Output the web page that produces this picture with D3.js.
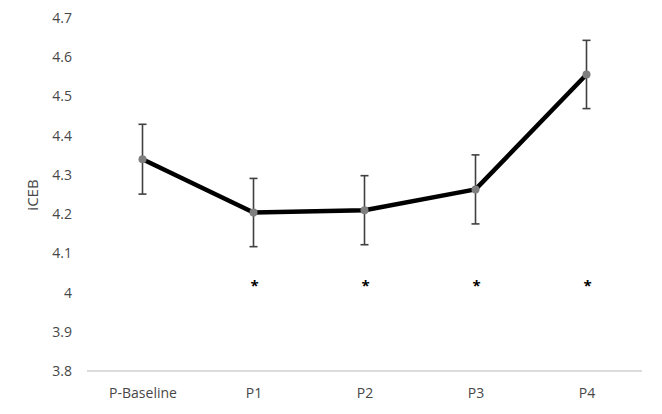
<!DOCTYPE html>
<html>
<head>
<meta charset="utf-8">
<script src="https://cdn.jsdelivr.net/npm/d3@7"></script>
<style>
    body { margin: 0; background: #fff; }
    text { font-family: "Open Sans", sans-serif; }
</style>
</head>
<body>
<div id="chart"></div>
<script>
// Chart values.
const categories = ['P-Baseline', 'P1', 'P2', 'P3', 'P4']
const means = [4.340, 4.204, 4.210, 4.263, 4.556]
const errors = [0.089, 0.087, 0.088, 0.088, 0.087]
const significant = [false, true, true, true, true]
const starValue = 4.02
const yTicks = [3.8, 3.9, 4, 4.1, 4.2, 4.3, 4.4, 4.5, 4.6, 4.7]
const yLabel = 'iCEB'

const width = 662
const height = 414
const textColor = '#474747'

const svg = d3.select('#chart').append('svg').attr('width', width).attr('height', height)

const xScale = d3.scalePoint().domain(categories).range([87, 642]).padding(0.5)
const yScale = d3.scaleLinear().domain([3.8, 4.7]).range([371, 18])

// y axis: labels only, no line
const yAxis = d3.axisLeft(yScale).tickValues(yTicks).tickSize(0).tickPadding(0)
    .tickFormat(d => d3.format('')(+d.toFixed(1)))
const gy = svg.append('g').attr('transform', 'translate(72, 0)').call(yAxis)
gy.select('.domain').remove()
gy.selectAll('text').attr('font-size', 14).attr('fill', textColor)
    .style('font-family', '"Open Sans", sans-serif')

// x axis: light gray baseline, no ticks
const xAxis = d3.axisBottom(xScale).tickSize(0).tickPadding(17)
const gx = svg.append('g').attr('transform', 'translate(0, 371)').call(xAxis)
gx.select('.domain').attr('stroke', '#d0d0d0').attr('stroke-width', 1.5)
    .attr('d', 'M87,0H642')
gx.selectAll('text').attr('font-size', 14).attr('fill', textColor)
    .style('font-family', '"Open Sans", sans-serif')

svg.append('text')
    .attr('transform', 'translate(38, 195) rotate(-90)')
    .attr('text-anchor', 'middle')
    .attr('font-size', 15).attr('fill', textColor)
    .text(yLabel)

const rows = categories.map((c, i) => ({ c: c, m: means[i], e: errors[i], sig: significant[i] }))

// error bars
const capHalf = 4
const eb = svg.append('g').attr('stroke', '#404040').attr('stroke-width', 1.6)
rows.forEach(d => {
    const x = xScale(d.c)
    const y1 = yScale(d.m + d.e)
    const y2 = yScale(d.m - d.e)
    eb.append('line').attr('x1', x).attr('x2', x).attr('y1', y1).attr('y2', y2)
    eb.append('line').attr('x1', x - capHalf).attr('x2', x + capHalf).attr('y1', y1).attr('y2', y1)
    eb.append('line').attr('x1', x - capHalf).attr('x2', x + capHalf).attr('y1', y2).attr('y2', y2)
})

// mean line
const line = d3.line().x(d => xScale(d.c)).y(d => yScale(d.m))
svg.append('path').datum(rows).attr('d', line)
    .attr('fill', 'none').attr('stroke', '#000').attr('stroke-width', 4.5)
    .attr('stroke-linejoin', 'round')

svg.selectAll('circle.pt').data(rows).enter().append('circle')
    .attr('class', 'pt')
    .attr('cx', d => xScale(d.c)).attr('cy', d => yScale(d.m)).attr('r', 4)
    .attr('fill', '#7f7f7f')

// significance stars
svg.selectAll('text.star').data(rows.filter(d => d.sig)).enter().append('text')
    .attr('class', 'star')
    .attr('x', d => xScale(d.c) + 1).attr('y', yScale(starValue) + 6)
    .attr('text-anchor', 'middle').attr('font-size', 15).attr('font-weight', 'bold')
    .attr('fill', '#000')
    .text('*')
</script>
</body>
</html>
